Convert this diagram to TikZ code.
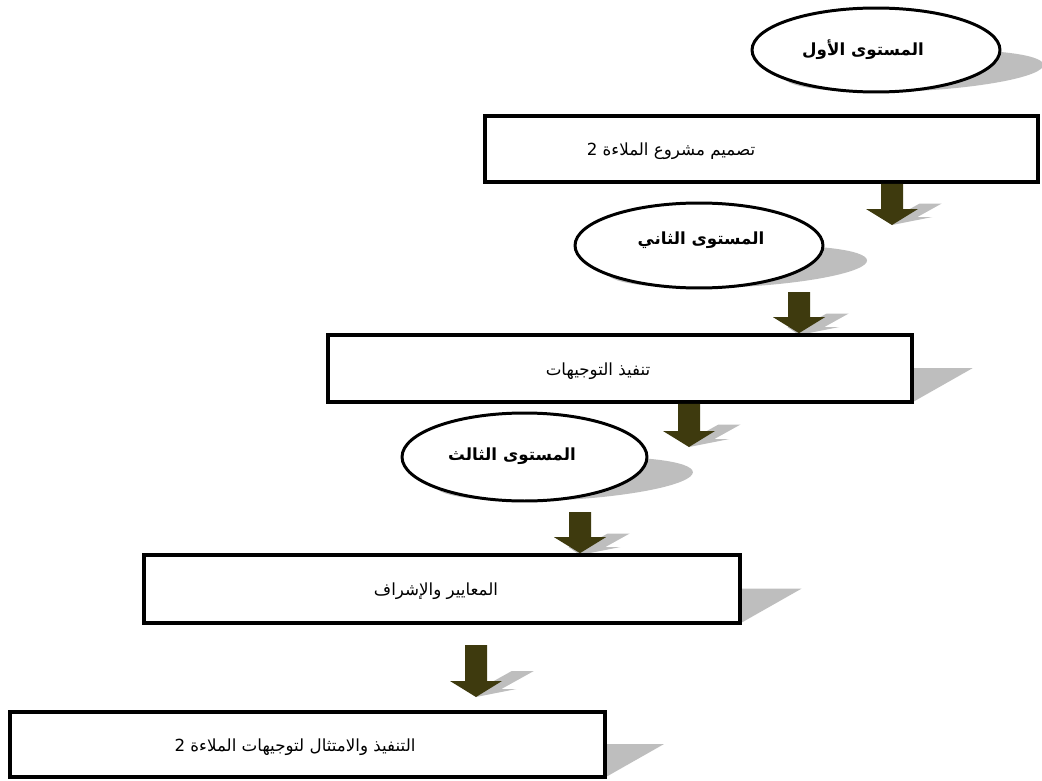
\documentclass[tikz,border=0pt]{standalone}
\usepackage{fontspec}
\newfontfamily\arabicfont[Script=Arabic]{DejaVu Sans}
\TeXXeTstate=1
\usetikzlibrary{calc,shapes.geometric}
\definecolor{arrowc}{RGB}{62,58,14}
\definecolor{shadowc}{RGB}{190,190,190}
% ellipse shadow: cx, cy, rx, ry (px)
\newcommand\ellshadow[4]{%
  \begin{scope}[shift={(0,#2+#4)}]\begin{scope}[cm={1,0,0.9,0.5,(0,0)}]
  \fill[shadowc] (#1,-#4) ellipse [x radius=#3, y radius=#4];
  \end{scope}\end{scope}}
% arrow shadow: x, ytop, ytip (px)
\newcommand\arrshadow[3]{%
  \begin{scope}[shift={(0,#3)}]\begin{scope}[cm={1,0,0.9,0.5,(0,0)}]
  \fill[shadowc] (#1-11,#2-#3) -- (#1+11,#2-#3) -- (#1+11,-16) -- (#1+26,-16) -- (#1,0) -- (#1-26,-16) -- (#1-11,-16) -- cycle;
  \end{scope}\end{scope}}
% block arrow between two named coordinates
\newcommand\barrow[2]{%
  \fill[arrowc] ($(#1)+(-11,0)$) -- ($(#1)+(11,0)$) -- ($(#2)+(11,-16)$) -- ($(#2)+(26,-16)$) -- (#2) -- ($(#2)+(-26,-16)$) -- ($(#2)+(-11,-16)$) -- cycle;}
% box shadow for a named box of height h
\newcommand\boxshadow[2]{%
  \fill[shadowc] (#1.south west) -- (#1.south east) -- ($(#1.north east)+(0.9*#2,0.5*#2)$) -- ($(#1.north west)+(0.9*#2,0.5*#2)$) -- cycle;}
\begin{document}
\begin{tikzpicture}[x=0.02cm,y=-0.02cm,
  box/.style={draw=black, line width=2.1pt, fill=white, rectangle, inner sep=0pt},
  lvl/.style={draw=black, line width=1.7pt, fill=white, ellipse, inner sep=0pt},
  lab/.style={font=\arabicfont\fontsize{9.5}{11}\selectfont, inner sep=0pt},
  blab/.style={font=\arabicfont\bfseries\fontsize{9.5}{11}\selectfont, inner sep=0pt},
]
\useasboundingbox (0,0) rectangle (1042,781);
\fill[white] (0,0) rectangle (1042,781);

% shadows of ellipses, boxes and arrows
\ellshadow{876}{50}{124}{42}
\ellshadow{699}{245.5}{124}{42.5}
\ellshadow{524.5}{457}{122.5}{44}
\arrshadow{892}{182}{225}
\arrshadow{799}{292}{335}
\arrshadow{689}{402}{447}
\arrshadow{580}{512}{555}
\arrshadow{476}{645}{697}

% level ellipses
\node[lvl, minimum width=4.96cm, minimum height=1.68cm] (e1) at (876,50) {};
\node[lvl, minimum width=4.96cm, minimum height=1.7cm] (e2) at (699,245.5) {};
\node[lvl, minimum width=4.9cm, minimum height=1.76cm] (e3) at (524.5,457) {};

% boxes (shadows first)
\path (761.5,149) node[minimum width=11.06cm, minimum height=1.32cm] (b1s) {};
\path (620,368.5) node[minimum width=11.68cm, minimum height=1.34cm] (b2s) {};
\path (442,589) node[minimum width=11.92cm, minimum height=1.36cm] (b3s) {};
\path (307.5,744.5) node[minimum width=11.9cm, minimum height=1.3cm] (b4s) {};
\boxshadow{b2s}{67}
\boxshadow{b3s}{68}
\boxshadow{b4s}{65}

\node[box, minimum width=11.06cm, minimum height=1.32cm] (b1) at (761.5,149) {};
\node[box, minimum width=11.68cm, minimum height=1.34cm] (b2) at (620,368.5) {};
\node[box, minimum width=11.92cm, minimum height=1.36cm] (b3) at (442,589) {};
\node[box, minimum width=11.9cm, minimum height=1.3cm] (b4) at (307.5,744.5) {};

% texts
\node[blab] (t1) at (863,50) {\beginR المستوى الأول\endR};
\node[lab] (t2) at (671,151) {\beginR تصميم مشروع الملاءة 2\endR};
\node[blab] (t3) at (701,240) {\beginR المستوى الثاني\endR};
\node[lab] (t4) at (598,371) {\beginR تنفيذ التوجيهات\endR};
\node[blab] (t5) at (512,456) {\beginR المستوى الثالث\endR};
\node[lab] (t6) at (436,591) {\beginR المعايير والإشراف\endR};
\node[lab] (t7) at (295,747) {\beginR التنفيذ والامتثال لتوجيهات الملاءة 2\endR};

% arrows
\coordinate (a1s) at (b1.south -| 892,0);
\coordinate (a1e) at (892,225);
\coordinate (a2s) at (799,292);
\coordinate (a2e) at (b2.north -| 799,0);
\coordinate (a3s) at (b2.south -| 689,0);
\coordinate (a3e) at (689,447);
\coordinate (a4s) at (580,512);
\coordinate (a4e) at (b3.north -| 580,0);
\coordinate (a5s) at (476,645);
\coordinate (a5e) at (476,697);
\barrow{a1s}{a1e}
\barrow{a2s}{a2e}
\barrow{a3s}{a3e}
\barrow{a4s}{a4e}
\barrow{a5s}{a5e}
\end{tikzpicture}
\end{document}
